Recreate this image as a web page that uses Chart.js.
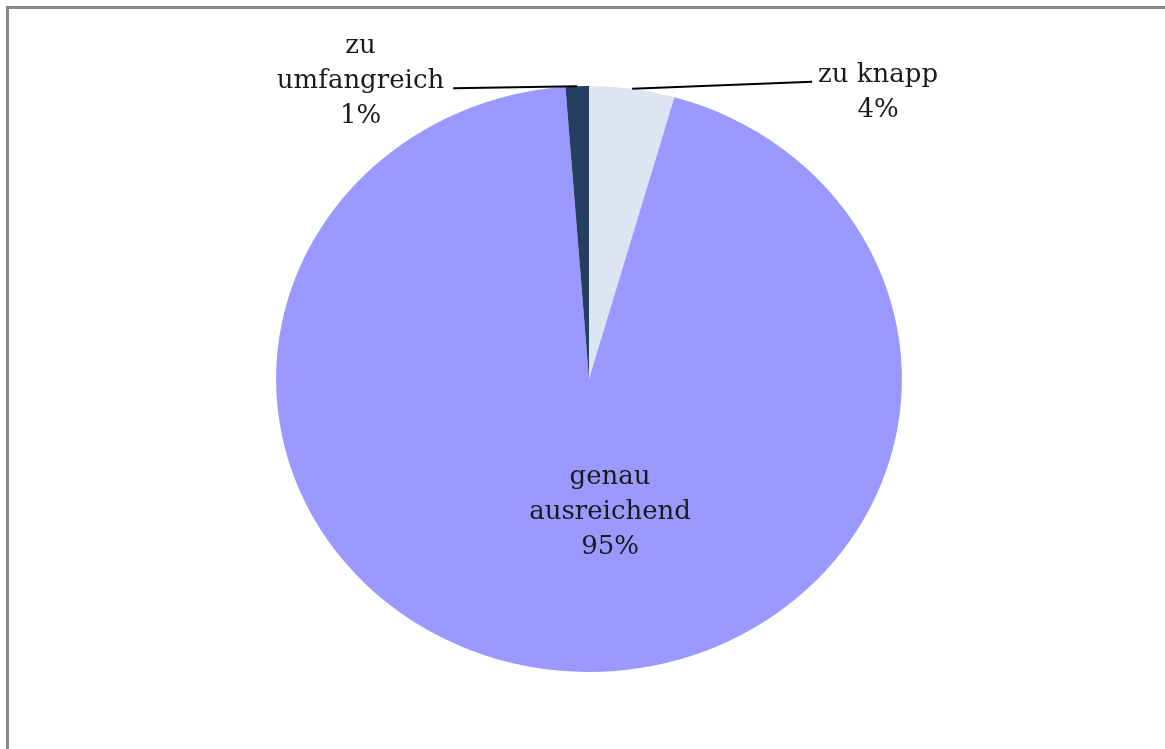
<!DOCTYPE html>
<html>
<head>
<meta charset="utf-8">
<script src="https://cdn.jsdelivr.net/npm/chart.js@4"></script>
<style>
  html, body { margin: 0; padding: 0; background: #fff; }
  #wrap { position: relative; width: 1165px; height: 749px; overflow: hidden; }
  #frame { position: absolute; left: 6px; top: 6px; width: 1200px; height: 800px;
           border-left: 3px solid #8a8a8a; border-top: 3px solid #8a8a8a; }
  canvas { position: absolute; left: 0; top: 0; }
</style>
</head>
<body>
<div id="wrap">
  <div id="frame"></div>
  <canvas id="pie" width="1165" height="749"></canvas>
</div>
<script>
// Data
const categories = ['zu knapp', 'genau ausreichend', 'zu umfangreich'];
const labelLines = [['zu knapp'], ['genau', 'ausreichend'], ['zu', 'umfangreich']];
const shares = [4.4, 94.4, 1.2];
const shareLabels = ['4%', '95%', '1%'];
const sliceColors = ['#DCE6F2', '#9999FF', '#243F60'];

const STRETCH_X = 1.068; // the original pie is a little wider than tall

// stretch only the arcs horizontally around the center
const stretchPlugin = {
  id: 'stretch',
  beforeDatasetsDraw(chart) {
    const arc = chart.getDatasetMeta(0).data[0];
    const ctx = chart.ctx;
    ctx.save();
    ctx.translate(arc.x, arc.y);
    ctx.scale(STRETCH_X, 1);
    ctx.translate(-arc.x, -arc.y);
  },
  afterDatasetsDraw(chart) {
    chart.ctx.restore();
  }
};

// data labels with leader lines for the two thin slices
const labelPlugin = {
  id: 'pieLabels',
  afterDraw(chart) {
    const ctx = chart.ctx;
    const arcs = chart.getDatasetMeta(0).data;
    ctx.save();
    ctx.font = '26px "DejaVu Serif"';
    ctx.fillStyle = '#1a1a1a';
    ctx.textAlign = 'center';
    ctx.textBaseline = 'middle';
    const lh = 35;

    arcs.forEach((arc, i) => {
      const mid = (arc.startAngle + arc.endAngle) / 2;
      const lines = labelLines[i].concat([shareLabels[i]]);
      if (i === 1) {
        // inside label for the big slice, a bit below and right of the center
        const cx = arc.x + arc.outerRadius * 0.072;
        const cy = arc.y + arc.outerRadius * 0.455;
        lines.forEach((t, k) => ctx.fillText(t, cx, cy + (k - 1) * lh));
        return;
      }
      const ax = arc.x + Math.cos(mid) * arc.outerRadius * STRETCH_X;
      const ay = arc.y + Math.sin(mid) * arc.outerRadius;
      const right = Math.cos(mid) > 0;
      const ex = right ? ax + 180 : ax - 124;
      const ey = right ? ay - 7 : ay + 2;
      ctx.strokeStyle = '#000';
      ctx.lineWidth = 2;
      ctx.beginPath();
      ctx.moveTo(ax, ay);
      ctx.lineTo(ex, ey);
      ctx.stroke();
      const gap = right ? 6 : 9;
      const w = Math.max(...lines.map(t => ctx.measureText(t).width));
      const lineIdx = right ? 0 : 1; // which text line sits on the leader
      const tx = right ? ex + gap + w / 2 : ex - gap - w / 2;
      lines.forEach((t, k) => {
        const y = ey - 7 + (k - lineIdx) * lh;
        ctx.fillText(t, tx, y);
      });
    });
    ctx.restore();
  }
};

new Chart(document.getElementById('pie').getContext('2d'), {
  type: 'pie',
  data: {
    labels: categories,
    datasets: [{
      data: shares,
      backgroundColor: sliceColors,
      borderWidth: 0
    }]
  },
  options: {
    responsive: false,
    animation: false,
    layout: { padding: { top: 86, bottom: 77, left: 100, right: 87 } },
    plugins: {
      legend: { display: false },
      tooltip: { enabled: false }
    }
  },
  plugins: [stretchPlugin, labelPlugin]
});
</script>
</body>
</html>
